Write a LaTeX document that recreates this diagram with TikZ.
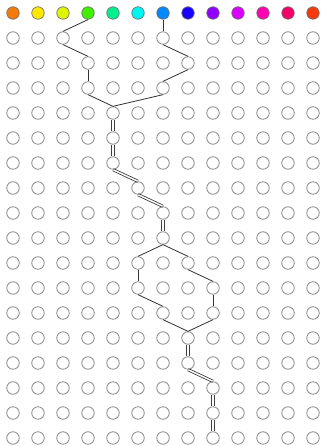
\documentclass[tikz,border=0pt]{standalone}
\usetikzlibrary{calc}
\begin{document}
\begin{tikzpicture}[x=1pt,y=-1pt,
  dot/.style={circle,draw=black!45,line width=0.8pt,minimum size=12.5pt,inner sep=0pt,fill=white},
  cdot/.style={circle,draw=black!55,line width=0.7pt,minimum size=12.5pt,inner sep=0pt},
  bond/.style={draw=black!80,line width=0.8pt},
  dline/.style={draw=black!75,line width=0.7pt}]
\useasboundingbox (0,0) rectangle (321,446);
\definecolor{c0}{HTML}{F57A0A}
\definecolor{c1}{HTML}{FFE800}
\definecolor{c2}{HTML}{DDF500}
\definecolor{c3}{HTML}{40F000}
\definecolor{c4}{HTML}{00F090}
\definecolor{c5}{HTML}{00F5F0}
\definecolor{c6}{HTML}{0088FF}
\definecolor{c7}{HTML}{1A00FF}
\definecolor{c8}{HTML}{9000FF}
\definecolor{c9}{HTML}{D800FF}
\definecolor{c10}{HTML}{FF00B0}
\definecolor{c11}{HTML}{F5006A}
\definecolor{c12}{HTML}{F53A10}
\foreach \c in {0,...,12}
  \node[cdot,fill=c\c] (n-0-\c) at ({13+25*\c},13) {};
\foreach \r in {1,...,17}
  \foreach \c in {0,...,12}
    \node[dot] (n-\r-\c) at ({13+25*\c},{13+25*\r}) {};
% single bonds
\foreach \a/\b in {0-3/1-2,0-6/1-6,1-2/2-3,1-6/2-7,2-3/3-3,2-7/3-6,3-3/4-4,3-6/4-4,
  9-6/10-5,9-6/10-7,10-5/11-5,10-7/11-8,11-5/12-6,11-8/12-8,12-6/13-7,12-8/13-7}
  \draw[bond] (n-\a.south) -- (n-\b.north);
% double bonds
\foreach \a/\b in {4-4/5-4,5-4/6-4,6-4/7-5,7-5/8-6,8-6/9-6,13-7/14-7,14-7/15-8,15-8/16-8,16-8/17-8}{
  \draw[dline] ($(n-\a.south)!1.2pt!90:(n-\b.north)$) -- ($(n-\b.north)!1.2pt!-90:(n-\a.south)$);
  \draw[dline] ($(n-\a.south)!1.2pt!-90:(n-\b.north)$) -- ($(n-\b.north)!1.2pt!90:(n-\a.south)$);
}
\end{tikzpicture}
\end{document}
